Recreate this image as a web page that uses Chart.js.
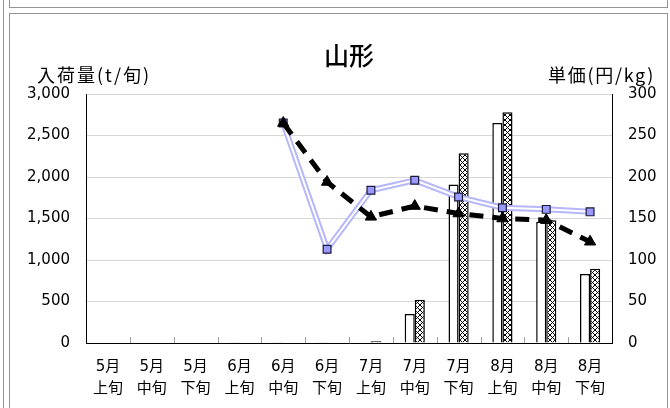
<!DOCTYPE html>
<html>
<head>
<meta charset="utf-8">
<script src="https://cdn.jsdelivr.net/npm/chart.js@4/dist/chart.umd.min.js"></script>
<style>
  html, body { margin: 0; padding: 0; background: #fff; width: 670px; height: 408px; overflow: hidden; position: relative; }
  .frame { position: absolute; border: 1px solid #959595; box-sizing: border-box; }
  #edge { position: absolute; left: 3px; top: 0; width: 1px; height: 408px; background: #959595; }
  #boxTop { left: 9px; top: -20px; width: 659px; height: 28px; }
  #boxMain { left: 9px; top: 13px; width: 659px; height: 420px; }
  canvas { position: absolute; left: 0; top: 0; }
</style>
</head>
<body>
<div id="edge"></div>
<div id="boxTop" class="frame"></div>
<div id="boxMain" class="frame"></div>
<canvas id="c" width="670" height="408"></canvas>
<script>
// 旬別カテゴリ
const categories = [
  ['5月', '上旬'], ['5月', '中旬'], ['5月', '下旬'],
  ['6月', '上旬'], ['6月', '中旬'], ['6月', '下旬'],
  ['7月', '上旬'], ['7月', '中旬'], ['7月', '下旬'],
  ['8月', '上旬'], ['8月', '中旬'], ['8月', '下旬']
];

// 入荷量 (t/旬)
const volumePlain   = [null, null, null, 8, 8, 8, 10, 350, 1910, 2650, 1460, 830];
const volumeHatched = [null, null, null, 0, 5, 5, 20, 520, 2285, 2780, 1480, 895];

// 単価 (円/kg)
const priceBlue  = [null, null, null, null, 265, 113, 184, 196, 176, 163, 161, 158];
const priceBlack = [null, null, null, null, 265, 194, 152, 165, 156, 150, 148, 122];

// 軸目盛
const volumeTicks = { min: 0, max: 3000, step: 500 };
const priceTicks  = { min: 0, max: 300, step: 50 };

const chartTitle = '山形';
const leftAxisTitle = '入荷量(t/旬)';
const rightAxisTitle = '単価(円/kg)';

const baseFont = '"DejaVu Sans", "Noto Sans CJK JP", sans-serif';
const cjkFont = '"Noto Sans CJK JP", sans-serif';

function crossHatch() {
  const s = 5;
  const c = document.createElement('canvas');
  c.width = s; c.height = s;
  const g = c.getContext('2d');
  g.fillStyle = '#fff';
  g.fillRect(0, 0, s, s);
  g.strokeStyle = '#000';
  g.lineWidth = 1;
  g.beginPath();
  g.moveTo(0, 0); g.lineTo(s, s);
  g.moveTo(s, 0); g.lineTo(0, s);
  g.stroke();
  return g.createPattern(c, 'repeat');
}

// タイトルと軸見出し
const textPlugin = {
  id: 'texts',
  afterDraw(chart) {
    const { ctx, chartArea: a } = chart;
    ctx.save();
    ctx.fillStyle = '#000';
    ctx.textBaseline = 'middle';
    ctx.font = '500 25px ' + cjkFont;
    ctx.textAlign = 'center';
    ctx.fillText(chartTitle, (a.left + a.right) / 2, a.top - 39);
    ctx.font = '18px ' + cjkFont;
    ctx.letterSpacing = '2px';
    ctx.textAlign = 'left';
    ctx.fillText(leftAxisTitle, 37, a.top - 19);
    ctx.letterSpacing = '1.7px';
    ctx.textAlign = 'right';
    ctx.fillText(rightAxisTitle, 655, a.top - 19);
    ctx.restore();
  }
};

// 横軸の区切り目盛 (内向き)
const innerTicks = {
  id: 'innerTicks',
  beforeDatasetsDraw(chart) {
    const xs = chart.scales.x, a = chart.chartArea, ctx = chart.ctx;
    ctx.save();
    ctx.strokeStyle = '#a0a0a0';
    ctx.lineWidth = 1;
    ctx.beginPath();
    for (let i = 0; i < categories.length - 1; i++) {
      const x = Math.round((xs.getPixelForValue(i) + xs.getPixelForValue(i + 1)) / 2) + 0.5;
      ctx.moveTo(x, a.bottom);
      ctx.lineTo(x, a.bottom - 6);
    }
    ctx.stroke();
    ctx.restore();
  }
};

Chart.defaults.font.family = baseFont;
Chart.defaults.color = '#000';

new Chart(document.getElementById('c'), {
  data: {
    labels: categories,
    datasets: [
      {
        type: 'bar', data: volumePlain, yAxisID: 'y',
        backgroundColor: '#fff', borderColor: '#000', borderWidth: 1.5,
        barPercentage: 1, categoryPercentage: 0.46, order: 10
      },
      {
        type: 'bar', data: volumeHatched, yAxisID: 'y',
        backgroundColor: crossHatch(), borderColor: '#000', borderWidth: 1.5,
        barPercentage: 1, categoryPercentage: 0.46, order: 10
      },
      {
        type: 'line', data: priceBlue, yAxisID: 'y1',
        borderColor: '#b6b6fa', borderWidth: 6, pointRadius: 0,
        tension: 0, order: 4
      },
      {
        type: 'line', data: priceBlue, yAxisID: 'y1',
        borderColor: '#ffffff', borderWidth: 2,
        pointStyle: 'rect', pointRadius: 5.5,
        pointBackgroundColor: '#9999ff', pointBorderColor: '#1a1a3a', pointBorderWidth: 1.2,
        tension: 0, order: 3
      },
      {
        type: 'line', data: priceBlack, yAxisID: 'y1',
        borderColor: '#000', borderWidth: 5, borderDash: [14, 9],
        pointStyle: 'triangle', pointRadius: 6.5, pointBorderWidth: 1,
        pointBackgroundColor: '#000', pointBorderColor: '#000',
        tension: 0, order: 1
      }
    ]
  },
  options: {
    responsive: false,
    animation: false,
    layout: { padding: { top: 94, left: 0, right: 0, bottom: 0 } },
    plugins: { legend: { display: false }, tooltip: { enabled: false } },
    scales: {
      x: {
        offset: true,
        grid: { display: true, drawOnChartArea: false, drawTicks: false },
        border: { display: true, color: '#000', width: 1 },
        ticks: { autoSkip: false, maxRotation: 0, padding: 13, color: '#000',
                 font: { size: 15, lineHeight: 1.45 } },
        afterFit(s) { s.height = 65; }
      },
      y: {
        position: 'left',
        min: volumeTicks.min, max: volumeTicks.max,
        ticks: { stepSize: volumeTicks.step, padding: 16, color: '#000', font: { size: 15 },
                 callback: v => v.toLocaleString('en-US') },
        grid: { color: '#d6d6d6', drawTicks: false },
        border: { display: true, color: '#000', width: 1 },
        afterFit(s) { s.width = 86; }
      },
      y1: {
        position: 'right',
        min: priceTicks.min, max: priceTicks.max,
        ticks: { stepSize: priceTicks.step, padding: 16, color: '#000', font: { size: 15 } },
        grid: { drawOnChartArea: false, drawTicks: false },
        border: { display: true, color: '#000', width: 1 },
        afterFit(s) { s.width = 58; }
      }
    }
  },
  plugins: [textPlugin, innerTicks]
});
</script>
</body>
</html>
